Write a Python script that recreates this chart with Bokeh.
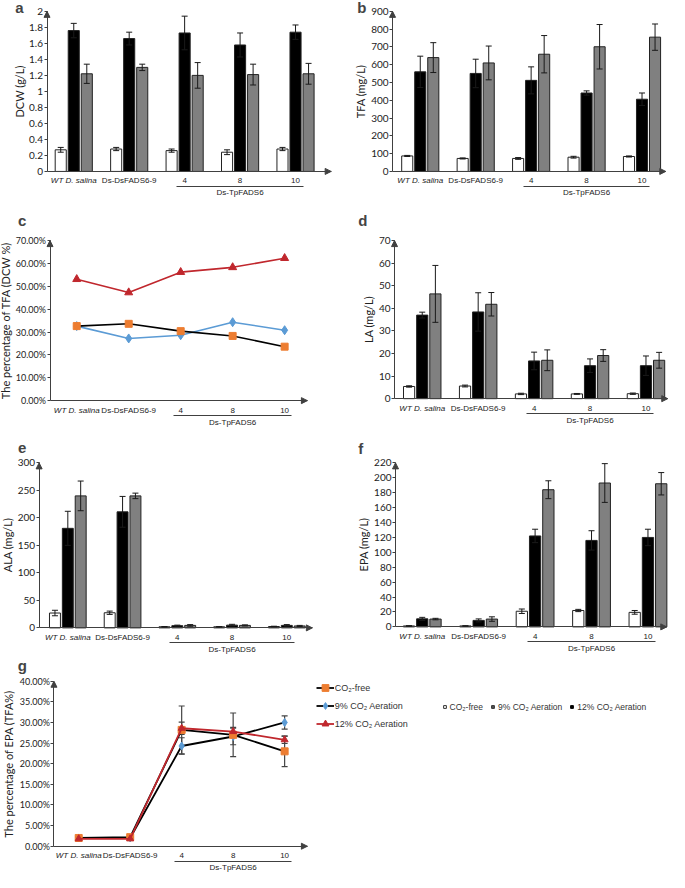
from bokeh.plotting import figure
from bokeh.models import (ColumnDataSource, FixedTicker, LinearAxis, Range1d, Label,
                          Whisker, TeeHead, Arrow, NormalHead, Legend, LegendItem,
                          PrintfTickFormatter, NumeralTickFormatter)
from bokeh.layouts import column, row
from bokeh.transform import dodge
from bokeh.embed import file_html
from bokeh.resources import INLINE

# ---------------- data ----------------
GROUPS = ["WT D. salina", "Ds-DsFADS6-9", "4", "8", "10"]
SUBGROUP = "Ds-TpFADS6"
SERIES = ["CO₂-free", "9% CO₂ Aeration", "12% CO₂ Aeration"]
X = [0, 1, 2, 3, 4]

# a: DCW (g/L)
dcw_free = [0.27, 0.28, 0.26, 0.24, 0.28]
dcw_free_err = [0.03, 0.02, 0.02, 0.03, 0.02]
dcw_9 = [1.76, 1.66, 1.73, 1.58, 1.74]
dcw_9_err = [0.09, 0.08, 0.21, 0.15, 0.09]
dcw_12 = [1.22, 1.30, 1.20, 1.21, 1.22]
dcw_12_err = [0.12, 0.04, 0.16, 0.13, 0.13]

# b: TFA (mg/L)
tfa_free = [87, 73, 73, 80, 84]
tfa_free_err = [3, 3, 5, 5, 3]
tfa_9 = [560, 551, 512, 441, 406]
tfa_9_err = [88, 80, 76, 12, 35]
tfa_12 = [640, 610, 659, 701, 755]
tfa_12_err = [84, 95, 105, 125, 74]

# c: TFA percentage of DCW (%)
ptfa_free = [32.6, 33.6, 30.4, 28.3, 23.6]
ptfa_9 = [32.6, 27.2, 28.6, 34.3, 30.8]
ptfa_12 = [53.1, 47.3, 56.2, 58.3, 62.3]

# d: LA (mg/L)
la_free = [5.4, 5.6, 2.1, 2.1, 2.2]
la_free_err = [0.3, 0.4, 0.3, 0.2, 0.3]
la_9 = [37.0, 38.4, 16.7, 14.6, 14.6]
la_9_err = [1.3, 8.5, 3.9, 3.0, 4.3]
la_12 = [46.4, 41.8, 17.0, 19.1, 17.0]
la_12_err = [12.6, 5.2, 4.6, 2.6, 3.5]

# e: ALA (mg/L)
ala_free = [27, 27.5, 2.0, 2.0, 2.5]
ala_free_err = [5, 3, 0.5, 0.5, 0.5]
ala_9 = [181, 211, 4.0, 5.0, 4.5]
ala_9_err = [31, 28, 1.0, 1.5, 1.5]
ala_12 = [240, 240, 4.5, 4.5, 3.5]
ala_12_err = [27, 5, 1.5, 1.0, 1.0]

# f: EPA (mg/L)
epa_free = [1.3, 1.3, 21.0, 22.0, 19.5]
epa_free_err = [0.3, 0.3, 3.0, 1.5, 2.5]
epa_9 = [10.8, 8.7, 122, 116, 120]
epa_9_err = [2.0, 2.0, 9, 13, 11]
epa_12 = [10.5, 10.5, 184, 193, 192]
epa_12_err = [1.0, 3.0, 12, 26, 15]

# g: EPA percentage of TFA (%)
pepa_free = [2.0, 2.2, 28.2, 27.0, 23.0]
pepa_free_err = [0.3, 0.3, 5.8, 5.3, 3.7]
pepa_9 = [2.0, 2.0, 24.3, 26.6, 30.0]
pepa_9_err = [0.3, 0.3, 2.0, 2.0, 1.6]
pepa_12 = [1.8, 1.8, 28.6, 27.8, 25.8]
pepa_12_err = [0.3, 0.3, 1.5, 1.0, 0.9]

# ---------------- style / layout ----------------
TFONT = "Lato"
CFONT = "Liberation Sans"
LFONT = "Liberation Sans"
CSIZE = "8px"
AX = "#404040"
TXT = "#222222"
BAR_COLORS = ["white", "black", "#808080"]
OFFS = [-0.235, 0.0, 0.235]
ORANGE, BLUE, RED = "#ED7D31", "#5B9BD5", "#C0272D"

SX, SY = 0.99, 0.988          # reference-pixel -> page-pixel scaling


def px(rx):
    return (rx - 3) * SX


def py(ry):
    return (ry - 4) * SY


# panel geometry (reference pixels): y-axis x, x-axis end, first group x,
# group spacing, y of zero, y of top tick, panel letter position
GEOM = {
    "a": dict(ax=50, ae=337, g0=77, s=56, y0=177, yt=15, lx=22, ly=11),
    "b": dict(ax=399, ae=675, g0=427, s=56, y0=177, yt=15, lx=368, ly=11),
    "c": dict(ax=53, ae=313, g0=80, s=52.5, y0=409, yt=247, lx=25, ly=227),
    "d": dict(ax=401, ae=677, g0=429, s=56.5, y0=407, yt=247, lx=369, ly=227),
    "e": dict(ax=42, ae=318, g0=71, s=55.3, y0=639, yt=472, lx=25, ly=457),
    "f": dict(ax=402, ae=676, g0=429, s=57, y0=638, yt=472, lx=367, ly=457),
    "g": dict(ax=57, ae=313, g0=82, s=52, y0=860, yt=693, lx=25, ly=677),
}
COLS = [(0, 333), (333, 336)]
ROWS = [(0, 205), (205, 230), (435, 221), (656, 216)]


def panel(letter, ylabel, ymax, ystep, fmt, col, rw, width=None, tick_size="10px"):
    G = GEOM[letter]
    ox, W = COLS[col]
    if width is not None:
        W = width
    oy, H = ROWS[rw]
    s = G["s"] * SX
    g0 = px(G["g0"]) - ox
    y0 = py(G["y0"]) - oy
    yt = py(G["yt"]) - oy
    k = (y0 - yt) / ymax
    x_lo, x_hi = -g0 / s, (W - g0) / s
    y_hi, y_lo = y0 / k, -(H - y0) / k
    ax_d = (px(G["ax"]) - ox - g0) / s
    ae_d = (px(G["ae"]) - ox - g0) / s

    p = figure(width=W, height=H, x_range=Range1d(x_lo, x_hi), y_range=Range1d(y_lo, y_hi),
               output_backend="svg", toolbar_location=None, min_border=0)
    p.grid.visible = False
    p.outline_line_color = None

    yax = p.yaxis[0]
    n = int(round(ymax / ystep))
    yax.fixed_location = ax_d
    yax.bounds = (0, ymax)
    yax.ticker = FixedTicker(ticks=[round(i * ystep, 6) for i in range(n + 1)])
    yax.formatter = fmt
    yax.axis_label = ylabel
    yax.axis_label_text_font = TFONT
    yax.axis_label_text_font_style = "normal"
    yax.axis_label_text_font_size = "11px"
    yax.axis_label_text_color = TXT
    yax.axis_label_standoff = 1
    yax.major_label_text_font = TFONT
    yax.major_label_text_font_size = tick_size
    yax.major_label_text_color = TXT
    yax.major_label_standoff = 1
    yax.major_tick_out = 3
    yax.major_tick_in = 0
    yax.minor_tick_out = 0
    yax.minor_tick_in = 0
    yax.axis_line_color = AX
    yax.major_tick_line_color = AX

    xax = p.xaxis[0]
    xax.fixed_location = 0
    xax.bounds = (ax_d, ae_d)
    xax.ticker = FixedTicker(ticks=X)
    xax.major_label_overrides = {0: "", 1: GROUPS[1], 2: GROUPS[2], 3: GROUPS[3], 4: GROUPS[4]}
    xax.major_label_text_font = CFONT
    xax.major_label_text_font_size = CSIZE
    xax.major_label_text_color = TXT
    xax.major_label_standoff = 5
    xax.major_tick_out = 0
    xax.major_tick_in = 0
    xax.minor_tick_out = 0
    xax.minor_tick_in = 0
    xax.axis_line_color = AX

    ax2 = LinearAxis(fixed_location=-15 / k, bounds=(1.86, 4.14), ticker=FixedTicker(ticks=[3]),
                     major_label_overrides={3: SUBGROUP},
                     major_label_text_font=CFONT, major_label_text_font_size=CSIZE,
                     major_label_text_color=TXT, major_label_standoff=2,
                     major_tick_out=0, major_tick_in=0, minor_tick_out=0, minor_tick_in=0,
                     axis_line_color=AX)
    p.add_layout(ax2, "below")

    p.add_layout(Label(x=0, y=0, y_offset=-5, text=GROUPS[0], text_font=CFONT,
                       text_font_style="italic", text_font_size=CSIZE, text_color=TXT,
                       text_align="center", text_baseline="top"))
    p.add_layout(Label(x=(px(G["lx"]) - ox - g0) / s, y=(y0 - (py(G["ly"]) - oy)) / k,
                       text=letter, text_font=LFONT, text_font_style="bold",
                       text_font_size="15px", text_align="center", text_baseline="middle"))
    p.add_layout(Arrow(end=NormalHead(size=6, fill_color=AX, line_color=AX), x_start=ax_d,
                       y_start=ymax * 0.97, x_end=ax_d, y_end=ymax, line_color=AX, line_width=1))
    p.add_layout(Arrow(end=NormalHead(size=6, fill_color=AX, line_color=AX),
                       x_start=ae_d - 0.05, y_start=0, x_end=ae_d, y_end=0,
                       line_color=AX, line_width=1))
    return p


def add_bars(p, vals, errs):
    data = {"x": X}
    for k in range(3):
        data[f"v{k}"] = vals[k]
        data[f"hi{k}"] = [v + e for v, e in zip(vals[k], errs[k])]
        data[f"lo{k}"] = [max(v - e, 0) for v, e in zip(vals[k], errs[k])]
    src = ColumnDataSource(data)
    for k in range(3):
        p.vbar(x=dodge("x", OFFS[k]), top=f"v{k}", bottom=0, width=0.2, source=src,
               fill_color=BAR_COLORS[k], line_color="#222222", line_width=1)
    for k in range(3):
        p.add_layout(Whisker(source=src, base=dodge("x", OFFS[k]), upper=f"hi{k}", lower=f"lo{k}",
                             dimension="height", line_color="#1a1a1a", line_width=1,
                             upper_head=TeeHead(size=6, line_color="#1a1a1a", line_width=1),
                             lower_head=TeeHead(size=6, line_color="#1a1a1a", line_width=1),
                             level="overlay"))


INT = NumeralTickFormatter(format="0")
PCT = PrintfTickFormatter(format="%.2f%%")

# ---------- row 1 ----------
pa = panel("a", "DCW (g/L)", 2, 0.2, NumeralTickFormatter(format="0.[0]"), 0, 0)
add_bars(pa, [dcw_free, dcw_9, dcw_12], [dcw_free_err, dcw_9_err, dcw_12_err])

pb = panel("b", "TFA (mg/L)", 900, 100, INT, 1, 0)
add_bars(pb, [tfa_free, tfa_9, tfa_12], [tfa_free_err, tfa_9_err, tfa_12_err])

# ---------- row 2 ----------
pc = panel("c", "The percentage of TFA (DCW %)", 70, 10, PCT, 0, 1, tick_size="9px")
pc.line(X, ptfa_12, line_color=RED, line_width=1.6)
pc.scatter(X, ptfa_12, marker="triangle", size=8, fill_color=RED, line_color=RED)
pc.line(X, ptfa_9, line_color=BLUE, line_width=1.6)
pc.scatter(X, ptfa_9, marker="diamond", size=9, fill_color=BLUE, line_color=BLUE)
pc.line(X, ptfa_free, line_color="black", line_width=1.6)
pc.scatter(X, ptfa_free, marker="square", size=7, fill_color=ORANGE, line_color=ORANGE)

pd_ = panel("d", "LA (mg/L)", 70, 10, INT, 1, 1)
add_bars(pd_, [la_free, la_9, la_12], [la_free_err, la_9_err, la_12_err])

# ---------- row 3 ----------
pe = panel("e", "ALA (mg/L)", 300, 50, INT, 0, 2)
add_bars(pe, [ala_free, ala_9, ala_12], [ala_free_err, ala_9_err, ala_12_err])

pf = panel("f", "EPA (mg/L)", 220, 20, INT, 1, 2)
add_bars(pf, [epa_free, epa_9, epa_12], [epa_free_err, epa_9_err, epa_12_err])

# ---------- row 4 ----------
pg = panel("g", "The percentage of EPA (TFA%)", 40, 5, PCT, 0, 3, width=669, tick_size="9px")
gsrc = ColumnDataSource(dict(
    x=X,
    f=pepa_free, f_hi=[v + e for v, e in zip(pepa_free, pepa_free_err)],
    f_lo=[v - e for v, e in zip(pepa_free, pepa_free_err)],
    n=pepa_9, n_hi=[v + e for v, e in zip(pepa_9, pepa_9_err)],
    n_lo=[v - e for v, e in zip(pepa_9, pepa_9_err)],
    t=pepa_12, t_hi=[v + e for v, e in zip(pepa_12, pepa_12_err)],
    t_lo=[v - e for v, e in zip(pepa_12, pepa_12_err)],
))
for col in ["f", "n", "t"]:
    pg.add_layout(Whisker(source=gsrc, base="x", upper=f"{col}_hi", lower=f"{col}_lo",
                          dimension="height", line_color="#444444", line_width=1.2,
                          upper_head=TeeHead(size=6, line_color="#444444", line_width=1.2),
                          lower_head=TeeHead(size=6, line_color="#444444", line_width=1.2),
                          level="underlay"))

# small square keys for the bar-series legend (drawn under the CO2-free markers,
# so they only show up in the legend)
s1 = pg.scatter("x", "f", source=gsrc, marker="square", size=4.5,
                fill_color="white", line_color="#333333")
s2 = pg.scatter("x", "f", source=gsrc, marker="square", size=4.5,
                fill_color="#555555", line_color="#333333")
s3 = pg.scatter("x", "f", source=gsrc, marker="square", size=4.5,
                fill_color="black", line_color="black")

gn_l = pg.line("x", "n", source=gsrc, line_color="black", line_width=1.8)
gn_m = pg.scatter("x", "n", source=gsrc, marker="diamond", size=8, fill_color=BLUE, line_color=BLUE)
gf_l = pg.line("x", "f", source=gsrc, line_color="black", line_width=1.8)
gf_m = pg.scatter("x", "f", source=gsrc, marker="square", size=7, fill_color=ORANGE, line_color=ORANGE)
gt_l = pg.line("x", "t", source=gsrc, line_color=RED, line_width=1.8)
gt_m = pg.scatter("x", "t", source=gsrc, marker="triangle", size=7, fill_color=RED, line_color=RED)

H4 = ROWS[3][1]
leg1 = Legend(items=[LegendItem(label=SERIES[0], renderers=[gf_l, gf_m]),
                     LegendItem(label=SERIES[1], renderers=[gn_l, gn_m]),
                     LegendItem(label=SERIES[2], renderers=[gt_l, gt_m])],
              location=(px(322), H4 - 76), orientation="vertical", glyph_width=18,
              glyph_height=17, label_height=17, spacing=1, padding=0, margin=0,
              border_line_color=None, background_fill_alpha=0, label_text_font=LFONT,
              label_text_font_size="9px", label_text_color="#333333", label_standoff=1)
leg2 = Legend(items=[LegendItem(label=SERIES[0], renderers=[s1]),
                     LegendItem(label=SERIES[1], renderers=[s2]),
                     LegendItem(label=SERIES[2], renderers=[s3])],
              location=(px(448), H4 - 59), orientation="horizontal", glyph_width=7,
              glyph_height=17, label_height=17, spacing=6, padding=0, margin=0,
              border_line_color=None, background_fill_alpha=0, label_text_font=LFONT,
              label_text_font_size="8.5px", label_text_color="#333333", label_standoff=2)
pg.add_layout(leg1)
pg.add_layout(leg2)

layout = column(row(pa, pb), row(pc, pd_), row(pe, pf), pg)
open("out.html", "w").write(file_html(layout, INLINE))
